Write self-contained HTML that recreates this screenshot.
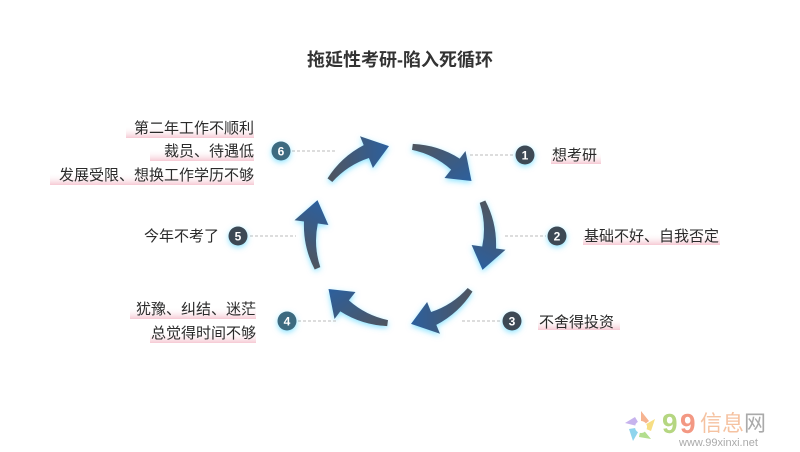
<!DOCTYPE html>
<html><head><meta charset="utf-8"><style>
body{margin:0;background:#fff;}
svg{display:block}
text{font-family:"Liberation Sans","Noto Sans CJK SC",sans-serif;}
.l{font-size:15px;fill:#2a2a2a;}
.n{font-size:12px;fill:#fff;font-weight:bold;text-anchor:middle;}
</style></head><body>
<svg width="800" height="452" viewBox="0 0 800 452" xmlns="http://www.w3.org/2000/svg">
<defs>
<linearGradient id="g" x1="0" y1="0" x2="1" y2="1">
<stop offset="0" stop-color="#50565e"/><stop offset="1" stop-color="#2c5f9e"/></linearGradient>
<linearGradient id="pk" x1="0" y1="0" x2="0" y2="1">
<stop offset="0.4" stop-color="#fff" stop-opacity="0"/><stop offset="1" stop-color="#f6c9d3"/></linearGradient>
<filter id="gl" x="-50%" y="-50%" width="200%" height="200%">
<feDropShadow dx="0" dy="2" stdDeviation="3" flood-color="#3fd0ff" flood-opacity="0.6"/></filter>
<g id="arr">
<path d="M412.8,143.9 A95,95 0 0 1 459.7,158.6 L465.5,151 L471.5,181 L444.5,178 L451.1,169.6 A85,85 0 0 0 412,149.9 Z" fill="url(#g)"/>
</g>
</defs>
<text x="400" y="66" text-anchor="middle" font-size="18" font-weight="bold" fill="#333">拖延性考研-陷入死循环</text>
<g filter="url(#gl)">
<use href="#arr"/>
<use href="#arr" transform="rotate(60 400 235)"/>
<use href="#arr" transform="rotate(120 400 235)"/>
<use href="#arr" transform="rotate(180 400 235)"/>
<use href="#arr" transform="rotate(240 400 235)"/>
<use href="#arr" transform="rotate(300 400 235)"/>
</g>
<g stroke="#bbb" stroke-width="1" stroke-dasharray="3,2">
<line x1="470" y1="155" x2="514" y2="155"/>
<line x1="505" y1="236" x2="546" y2="236"/>
<line x1="462" y1="321" x2="501" y2="321"/>
<line x1="298" y1="321" x2="336" y2="321"/>
<line x1="250" y1="236" x2="296" y2="236"/>
<line x1="292" y1="151" x2="336" y2="151"/>
</g>
<g filter="url(#gl)">
<circle cx="525" cy="155" r="9.5" fill="#3d4a55"/>
<circle cx="557" cy="236" r="9.5" fill="#3d4a55"/>
<circle cx="512" cy="321" r="9.5" fill="#3d4a55"/>
<circle cx="287" cy="321" r="9.5" fill="#3d6a80"/>
<circle cx="238" cy="236" r="9.5" fill="#3d4a55"/>
<circle cx="281" cy="151" r="9.5" fill="#3d6a80"/>
</g>
<text class="n" x="525" y="159.5">1</text>
<text class="n" x="557" y="240.5">2</text>
<text class="n" x="512" y="325.5">3</text>
<text class="n" x="287" y="325.5">4</text>
<text class="n" x="238" y="240.5">5</text>
<text class="n" x="281" y="155.5">6</text>
<g fill="url(#pk)">
<rect x="551" y="144" width="50" height="20"/>
<rect x="583" y="225" width="137" height="20"/>
<rect x="538" y="310" width="82" height="20"/>
<rect x="126" y="118" width="128" height="20"/><rect x="150" y="141" width="104" height="20"/><rect x="50" y="165" width="204" height="20"/>
<rect x="130" y="299" width="126" height="20"/><rect x="150" y="323" width="106" height="20"/>
</g>
<text class="l" x="552" y="160">想考研</text>
<text class="l" x="584" y="241">基础不好、自我否定</text>
<text class="l" x="539" y="327">不舍得投资</text>
<g text-anchor="end" class="l">
<text class="l" x="254" y="133">第二年工作不顺利</text>
<text class="l" x="254" y="156">裁员、待遇低</text>
<text class="l" x="254" y="180">发展受限、想换工作学历不够</text>
<text class="l" x="219" y="241">今年不考了</text>
<text class="l" x="256" y="314">犹豫、纠结、迷茫</text>
<text class="l" x="256" y="338">总觉得时间不够</text>
</g>
<g transform="translate(641,427)" opacity="0.75">
<path d="M0,-16 L8,-6 L0,0Z" fill="#f39a6b"/>
<path d="M14,-8 L10,4 L0,0Z" fill="#f5d45a"/>
<path d="M10,12 L-2,10 L0,0Z" fill="#9ad36a"/>
<path d="M-8,14 L-12,2 L0,0Z" fill="#6ac6e8"/>
<path d="M-16,-4 L-6,-10 L0,0Z" fill="#b59ae8"/>
<circle r="6" fill="#fff"/>
</g>
<text x="662" y="433" font-size="28" font-weight="bold" fill="#a9cf6c" opacity="0.85">9</text>
<text x="680" y="433" font-size="28" font-weight="bold" fill="#f2876e" opacity="0.85">9</text>
<text x="700" y="431" font-size="22" fill="#f3b48a" opacity="0.8">信息</text>
<text x="744" y="431" font-size="22" fill="#aaa">网</text>
<text x="679" y="446" font-size="11" fill="#aaa">www.99xinxi.net</text>
</svg>
</body></html>
